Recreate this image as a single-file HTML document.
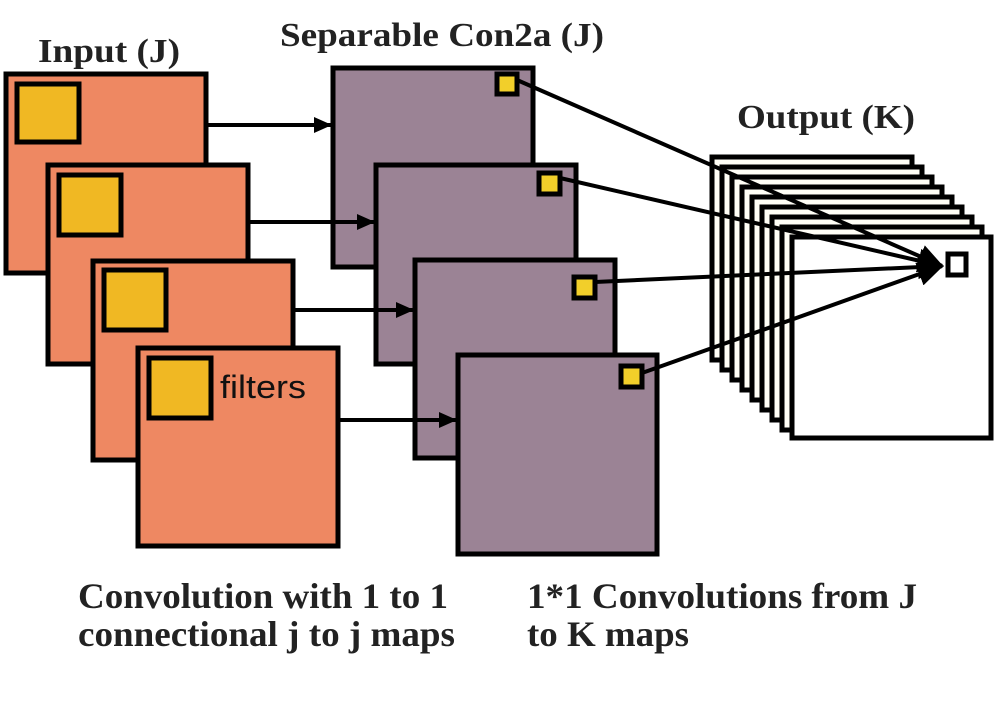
<!DOCTYPE html>
<html><head><style>
body{margin:0;background:#fff;width:997px;height:701px;overflow:hidden}
</style></head><body>
<svg width="997" height="701" xmlns="http://www.w3.org/2000/svg">
<defs><marker id="a" markerWidth="18" markerHeight="16" refX="17" refY="8" orient="auto" markerUnits="userSpaceOnUse"><path d="M0,0 L18,8 L0,16z" fill="#000"/></marker>
<marker id="b" markerWidth="26" markerHeight="24" refX="24" refY="12" orient="auto" markerUnits="userSpaceOnUse"><path d="M0,0 L26,12 L0,24z" fill="#000"/></marker></defs>
<g stroke="#000" stroke-width="5">
<rect x="6" y="74" width="200" height="199" fill="#ee8862"/>
<rect x="17" y="84" width="62" height="58" fill="#f0b823"/>
<rect x="48" y="165" width="200" height="199" fill="#ee8862"/>
<rect x="59" y="175" width="62" height="60" fill="#f0b823"/>
<rect x="93" y="261" width="200" height="199" fill="#ee8862"/>
<rect x="104" y="270" width="62" height="60" fill="#f0b823"/>
<rect x="138" y="348" width="200" height="198" fill="#ee8862"/>
<rect x="149" y="358" width="62" height="60" fill="#f0b823"/>
<rect x="333" y="68" width="200" height="199" fill="#9b8395"/>
<rect x="497" y="74" width="20" height="20" fill="#f2cf2a"/>
<rect x="376" y="165" width="200" height="199" fill="#9b8395"/>
<rect x="539" y="173" width="21" height="21" fill="#f2cf2a"/>
<rect x="415" y="260" width="200" height="198" fill="#9b8395"/>
<rect x="574" y="277" width="21" height="21" fill="#f2cf2a"/>
<rect x="458" y="355" width="199" height="199" fill="#9b8395"/>
<rect x="621" y="366" width="21" height="21" fill="#f2cf2a"/>
<rect x="712" y="157" width="200" height="203" fill="#fffef6"/>
<rect x="722" y="167" width="200" height="203" fill="#fffef6"/>
<rect x="732" y="177" width="200" height="203" fill="#fffef6"/>
<rect x="742" y="187" width="200" height="203" fill="#fffef6"/>
<rect x="752" y="197" width="200" height="203" fill="#fffef6"/>
<rect x="762" y="207" width="200" height="203" fill="#fffef6"/>
<rect x="772" y="217" width="200" height="203" fill="#fffef6"/>
<rect x="782" y="227" width="200" height="203" fill="#fffef6"/>
<rect x="792" y="237" width="199" height="201" fill="#fff"/>
<rect x="948" y="254" width="18" height="21" fill="#fff"/>
<g fill="none" stroke-width="4">
<line x1="206" y1="125" x2="331" y2="125" marker-end="url(#a)"/>
<line x1="248" y1="222" x2="374" y2="222" marker-end="url(#a)"/>
<line x1="294" y1="310" x2="413" y2="310" marker-end="url(#a)"/>
<line x1="338" y1="420" x2="456" y2="420" marker-end="url(#a)"/>
<line x1="517" y1="80" x2="942" y2="266" marker-end="url(#b)"/>
<line x1="560" y1="178" x2="942" y2="266" marker-end="url(#b)"/>
<line x1="595" y1="282" x2="942" y2="266" marker-end="url(#b)"/>
<line x1="642" y1="373" x2="942" y2="266" marker-end="url(#b)"/>
</g>
</g>
<g font-family="Liberation Serif, serif" font-weight="bold" fill="#222" font-size="34">
<text x="38" y="62" textLength="142" lengthAdjust="spacingAndGlyphs">Input (J)</text>
<text x="280" y="46" textLength="324" lengthAdjust="spacingAndGlyphs">Separable Con2a (J)</text>
<text x="737" y="128" textLength="178" lengthAdjust="spacingAndGlyphs">Output (K)</text>
<text x="78" y="608" font-size="36" textLength="370" lengthAdjust="spacingAndGlyphs">Convolution with 1 to 1</text>
<text x="78" y="646" font-size="36" textLength="377" lengthAdjust="spacingAndGlyphs">connectional j to j maps</text>
<text x="527" y="608" font-size="36" textLength="390" lengthAdjust="spacingAndGlyphs">1*1 Convolutions from J</text>
<text x="527" y="646" font-size="36" textLength="162" lengthAdjust="spacingAndGlyphs">to K maps</text>
</g>
<text x="220" y="398" font-family="Liberation Sans, sans-serif" font-size="32" fill="#111" textLength="86" lengthAdjust="spacingAndGlyphs">filters</text>
</svg>
</body></html>
